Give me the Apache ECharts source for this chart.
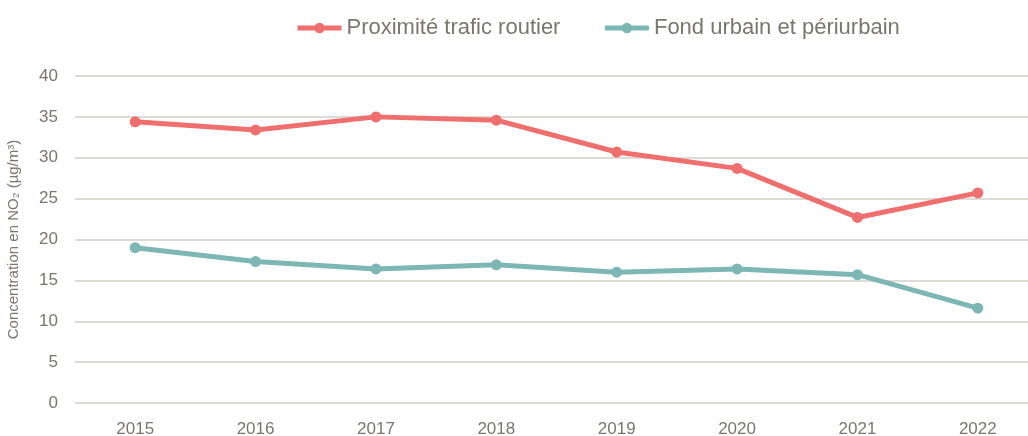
<!DOCTYPE html>
<html>
<head>
<meta charset="utf-8">
<script src="https://cdn.jsdelivr.net/npm/echarts@6/dist/echarts.min.js"></script>
<style>
  html, body { margin: 0; padding: 0; background: #fff; }
  #chart { width: 1028px; height: 436px; }
</style>
</head>
<body>
<div id="chart"></div>
<script>
const years = ["2015", "2016", "2017", "2018", "2019", "2020", "2021", "2022"];
const trafic = [34.4, 33.4, 35.0, 34.6, 30.7, 28.7, 22.7, 25.7];
const fond = [19.0, 17.3, 16.4, 16.9, 16.0, 16.4, 15.7, 11.6];

const textColor = "#7b756f";
const font = "'Liberation Sans Narrow', 'Liberation Sans', Arial, sans-serif";

const chart = echarts.init(document.getElementById("chart"));

const option = {
  backgroundColor: "#fff",
  animation: false,
  textStyle: { fontFamily: font },
  legend: {
    top: 12,
    left: 290,
    itemWidth: 44,
    itemHeight: 13,
    itemGap: 42,
    lineStyle: { width: 5 },
    textStyle: { color: textColor, fontSize: 22, fontFamily: font },
    data: ["Proximité trafic routier", "Fond urbain et périurbain"],
  },
  grid: {
    left: 75,
    top: 76,
    width: 963,
    bottom: 33,
    outerBoundsMode: "none",
  },
  xAxis: {
    type: "category",
    data: years,
    boundaryGap: true,
    axisLine: { show: false },
    axisTick: { show: false },
    axisLabel: { color: textColor, fontSize: 17, margin: 18, fontFamily: font },
  },
  yAxis: {
    type: "value",
    min: 0,
    max: 40,
    interval: 5,
    name: "Concentration en NO₂ (µg/m³)",
    nameLocation: "middle",
    nameGap: 54,
    nameTextStyle: { color: textColor, fontSize: 15, fontFamily: font },
    axisLine: { show: false },
    axisTick: { show: false },
    axisLabel: { color: textColor, fontSize: 17, margin: 17, fontFamily: font },
    splitLine: { lineStyle: { color: "#dcdbd5", width: 2 } },
  },
  series: [
    {
      name: "Proximité trafic routier",
      type: "line",
      data: trafic,
      symbol: "circle",
      symbolSize: 11,
      color: "#ee6f6d",
      lineStyle: { width: 5, color: "#ee6f6d" },
      itemStyle: { color: "#ee6f6d" },
    },
    {
      name: "Fond urbain et périurbain",
      type: "line",
      data: fond,
      symbol: "circle",
      symbolSize: 11,
      color: "#7db7b5",
      lineStyle: { width: 5, color: "#7db7b5" },
      itemStyle: { color: "#7db7b5" },
    },
  ],
};

chart.setOption(option);
</script>
</body>
</html>
